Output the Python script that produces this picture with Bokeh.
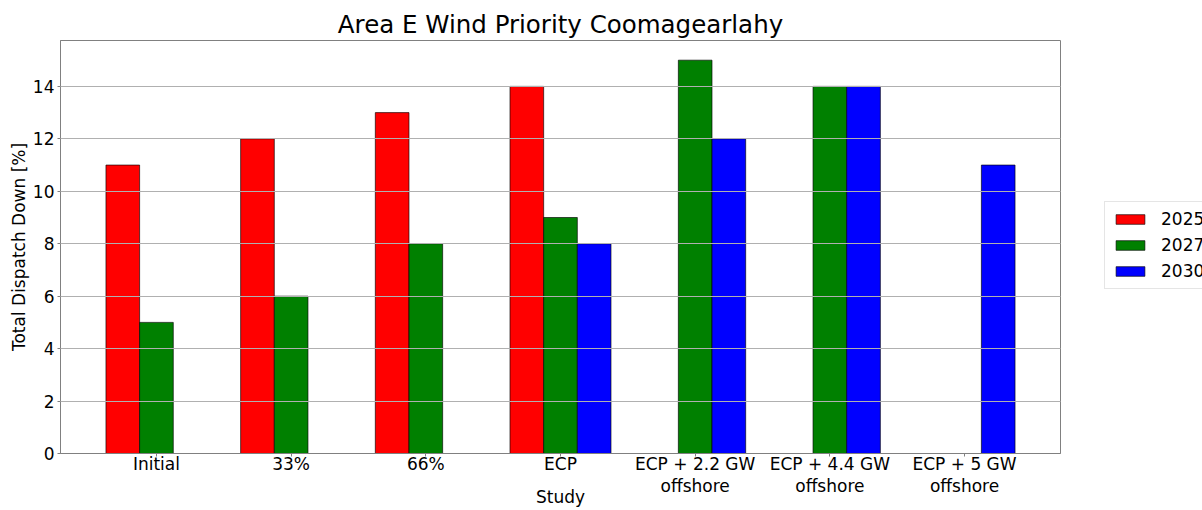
from bokeh.plotting import figure
from bokeh.models import FixedTicker, Legend, LegendItem, Range1d
from bokeh.embed import file_html
from bokeh.resources import INLINE

categories = ["Initial", "33%", "66%", "ECP",
              "ECP + 2.2 GW\noffshore", "ECP + 4.4 GW\noffshore", "ECP + 5 GW\noffshore"]
years = ["2025", "2027", "2030"]
v2025 = [11, 12, 13, 14, None, None, None]
v2027 = [5, 6, 8, 9, 15, 14, None]
v2030 = [None, None, None, 8, 12, 14, 11]
colors = ["red", "green", "blue"]
y_ticks = [0, 2, 4, 6, 8, 10, 12, 14]

FONT = "DejaVu Sans"
GRAY = "#808080"
FS = "17px"

p = figure(frame_width=1000, height=510, output_backend="svg", toolbar_location=None,
           x_range=Range1d(-0.7125, 6.7125), y_range=Range1d(0, 15.75),
           min_border_left=60, min_border_right=142, min_border_top=40, min_border_bottom=57)

p.title.text = "Area E Wind Priority Coomagearlahy"
p.title.align = "center"
p.title.text_font = FONT
p.title.text_font_size = "24.5px"
p.title.text_font_style = "normal"
p.title.text_color = "black"
p.title.standoff = 3

offsets = [-0.25, 0.0, 0.25]
items = []
for vals, off, col, yr in zip([v2025, v2027, v2030], offsets, colors, years):
    xs = [i + off for i, v in enumerate(vals) if v is not None]
    ys = [v for v in vals if v is not None]
    r = p.vbar(x=xs, top=ys, bottom=0, width=0.25, fill_color=col,
               line_color="black", line_width=0.8, line_alpha=0.8)
    items.append(LegendItem(label=yr, renderers=[r]))

p.xaxis.ticker = FixedTicker(ticks=list(range(len(categories))))
p.xaxis.major_label_overrides = {i: c for i, c in enumerate(categories)}
p.yaxis.ticker = FixedTicker(ticks=y_ticks)

for ax in (p.xaxis[0], p.yaxis[0]):
    ax.major_label_text_font = FONT
    ax.major_label_text_font_size = FS
    ax.major_label_text_color = "black"
    ax.axis_line_color = GRAY
    ax.major_tick_line_color = GRAY
    ax.major_tick_out = 3
    ax.major_tick_in = 0
    ax.minor_tick_out = 0
    ax.minor_tick_in = 0
    ax.axis_label_text_font = FONT
    ax.axis_label_text_font_size = FS
    ax.axis_label_text_font_style = "normal"
    ax.axis_label_text_color = "black"

p.yaxis.major_label_standoff = 3
p.yaxis.axis_label = "Total Dispatch Down [%]"
p.yaxis.axis_label_standoff = 1

p.xaxis.major_label_standoff = -3
p.xaxis.major_label_text_line_height = 1.1
p.xaxis.axis_label = "Study"
p.xaxis.axis_label_standoff = -12

p.xgrid.visible = False
p.ygrid.grid_line_color = "#b0b0b0"
p.ygrid.grid_line_width = 1
p.ygrid.level = "overlay"

p.outline_line_color = GRAY
p.outline_line_width = 1

legend = Legend(items=items, location=(44, 164), margin=0)
legend.label_text_font = FONT
legend.label_text_font_size = FS
legend.label_text_color = "black"
legend.glyph_width = 36
legend.glyph_height = 12
legend.label_height = 19
legend.label_standoff = 13
legend.spacing = 6
legend.padding = 7
legend.border_line_color = "#cccccc"
legend.background_fill_color = "white"
legend.background_fill_alpha = 1.0
p.add_layout(legend, "right")

open("out.html", "w").write(file_html(p, INLINE))
